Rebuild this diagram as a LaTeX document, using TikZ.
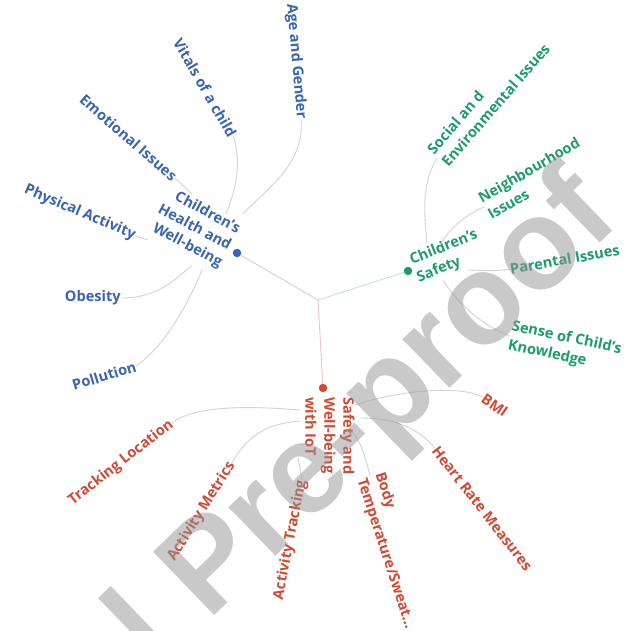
\documentclass[tikz,border=0pt]{standalone}
\usepackage{fontspec}
\usetikzlibrary{calc}
\setmainfont{Open Sans}
\newfontfamily\wmfont{Liberation Sans}
\definecolor{cblue}{HTML}{3865B3}
\definecolor{cgreen}{HTML}{1C9B6B}
\definecolor{cred}{HTML}{CF4A31}
\definecolor{cline}{HTML}{D0D3DA}
\definecolor{clgreen}{HTML}{C6E1D5}
\definecolor{clred}{HTML}{EBC4BD}
\definecolor{clblue}{HTML}{CAD0DD}
\tikzset{
  lbl/.style={font=\fontsize{14.6}{19}\selectfont\bfseries, inner sep=0pt},
  bl/.style={lbl, text=cblue},
  gl/.style={lbl, text=cgreen},
  rl/.style={lbl, text=cred},
  conn/.style={draw=cline, line width=0.9pt},
  hubdot/.style={circle, inner sep=0pt, minimum size=8.5pt},
  wm/.style={font=\fontsize{128}{128}\selectfont\wmfont\bfseries, text=black!42, opacity=0.5, inner sep=0pt}
}
\begin{document}
\begin{tikzpicture}[x=1pt,y=-1pt]
\useasboundingbox (0,0) rectangle (631,630);
% centre and hubs
\coordinate (c) at (318,300);
\node[hubdot, fill=cblue] (hb) at (237,253) {};
\node[hubdot, fill=cgreen] (hg) at (408,271) {};
\node[hubdot, fill=cred] (hr) at (323,388) {};
\draw[draw=clblue, line width=0.9pt] (c) -- (hb);
\draw[draw=clgreen, line width=0.9pt] (c) -- (hg);
\draw[draw=clred, line width=0.9pt] (c) -- (hr);
% hub labels
\node[bl, rotate=-28, align=right, anchor=east] (lb) at (230,247) {Children's\\Health and\\Well-being};
\node[gl, rotate=22, align=left, anchor=west] (lg) at (414,270) {Children's\\Safety};
\node[rl, rotate=-90, align=left, anchor=west] (lr) at (330,397) {Safety and\\Well-being\\with IoT};
% blue leaves
\node[bl, rotate=-85, anchor=east] (b1) at (301,119) {Age and Gender};
\node[bl, rotate=-60, anchor=east] (b2) at (233,136) {Vitals of a child};
\node[bl, rotate=-41, anchor=east] (b3) at (175,178) {Emotional Issues};
\node[bl, rotate=-23, anchor=east] (b4) at (135,236) {Physical Activity};
\node[bl, anchor=east] (b5) at (121,298) {Obesity};
\node[bl, rotate=17, anchor=east] (b6) at (136,366) {Pollution};
% green leaves
\node[gl, rotate=49, align=left, anchor=west] (g1) at (437,158) {Social an d\\Environmental Issues};
\node[gl, rotate=30, align=left, anchor=west] (g2) at (484,207) {Neighbourhood\\Issues};
\node[gl, rotate=10, anchor=west] (g3) at (510,269) {Parental Issues};
\node[gl, rotate=-12, align=left, anchor=west] (g4) at (510,336) {Sense of Child's\\Knowledge};
% red leaves
\node[rl, rotate=-35, anchor=west] (r1) at (483,397) {BMI};
\node[rl, rotate=-52, anchor=west] (r2) at (435,448) {Heart Rate Measures};
\node[rl, rotate=-72, align=left, anchor=west] (r3) at (370,476) {Body\\Temperature/Sweat...};
\node[rl, rotate=79, anchor=east] (r4) at (302,480) {Activity Tracking};
\node[rl, rotate=58, anchor=east] (r5) at (232,463) {Activity Metrics};
\node[rl, rotate=38, anchor=east] (r6) at (172,423) {Tracking Location};
% connector ends near hub labels
\coordinate (kb1) at (243,214);
\coordinate (kb2) at (226,214);
\coordinate (kb3) at (192,194);
\coordinate (kb4) at (148,240);
\coordinate (kb5) at (192,266);
\coordinate (kb6) at (202,270);
\coordinate (kg1) at (427,243);
\coordinate (kg2) at (440,245);
\coordinate (kg3) at (468,270);
\coordinate (kg4) at (443,280);
\coordinate (kr1) at (355,405);
\coordinate (kr2) at (360,418);
\coordinate (kr3) at (352,432);
\coordinate (kr4) at (298,458);
\coordinate (kr5) at (300,421);
\coordinate (kr6) at (300,410);
% connectors
\draw[conn] (b1.east) .. controls (305,165) and (265,190) .. (kb1);
\draw[conn] (b2.east) .. controls (242,160) and (236,190) .. (kb2);
\draw[conn] (b3.east) -- (kb3);
\draw[conn] (b4.east) -- (kb4);
\draw[conn] (b5.east) .. controls (160,298) and (175,278) .. (kb5);
\draw[conn] (b6.east) .. controls (160,350) and (185,312) .. (kb6);
\draw[conn] (g1.west) .. controls (420,185) and (425,220) .. (kg1);
\draw[conn] (g2.west) .. controls (465,215) and (450,228) .. (kg2);
\draw[conn] (g3.west) .. controls (495,272) and (480,270) .. (kg3);
\draw[conn] (g4.west) .. controls (480,325) and (455,300) .. (kg4);
\draw[conn] (r1.west) .. controls (460,385) and (400,390) .. (kr1);
\draw[conn] (r2.west) .. controls (415,425) and (390,418) .. (kr2);
\draw[conn] (r3.west) .. controls (365,455) and (360,440) .. (kr3);
\draw[conn] (r4.east) -- (kr4);
\draw[conn] (r5.east) .. controls (250,430) and (275,423) .. (kr5);
\draw[conn] (r6.east) .. controls (195,405) and (250,406) .. (kr6);
% watermark
\begin{scope}
\clip (0,0) rectangle (631,630);
\node[wm, rotate=44, anchor=base west] (wmb) at (208,622) {Pre-proof};
\node[wm, rotate=44, anchor=base east] (wma) at ($(wmb.base west)+(-25.6,24.7)$) {Journal};
\end{scope}
\end{tikzpicture}
\end{document}
